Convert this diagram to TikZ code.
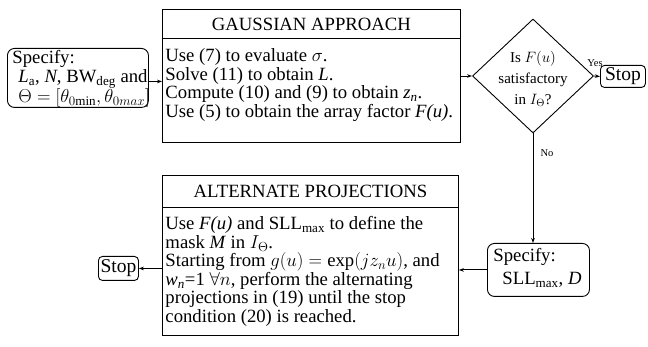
\documentclass[tikz,border=0pt]{standalone}
\usepackage{fix-cm}
\usepackage{fontspec}
\setmainfont{Liberation Serif}
\usetikzlibrary{arrows.meta,shapes.geometric}
\begin{document}
\begin{tikzpicture}[x=1pt,y=-1pt,
  line width=0.9pt,
  every node/.style={font=\fontsize{18.7}{18.5}\selectfont},
  box/.style={draw, rectangle, inner sep=0pt, anchor=north west},
  rbox/.style={box, rounded corners=7pt},
  sbox/.style={box, rounded corners=4pt, font=\fontsize{19.5}{20}\selectfont},
  % multi-line texts are placed by the baseline of their last line
  txt/.style={inner sep=0pt, anchor=base west, align=left},
  dia/.style={draw, diamond, inner sep=0pt, minimum width=121pt, minimum height=114pt},
  small/.style={inner sep=0pt, font=\fontsize{10.5}{12}\selectfont},
  flow/.style={-{Stealth[length=5pt,width=3.6pt]}},
]
\useasboundingbox (0,0) rectangle (648,347);

% input parameters
\node[rbox, minimum width=141pt, minimum height=59pt] (spec) at (7,48) {};
\node[txt] (spectxt) at (12,103) {Specify:\\\hspace*{6pt}\textit{L}\textsubscript{a}, \textit{N}, BW\textsubscript{deg} and\\\hspace*{6pt}$\Theta=[\theta_{0\mathrm{min}},\theta_{0max}]$};

% Gaussian approach block
\node[box, minimum width=298pt, minimum height=133pt] (gauss) at (162,9) {};
\node[box, minimum width=298pt, minimum height=29pt] (ghead) at (162,9) {GAUSSIAN APPROACH};
\node[txt] (gtxt) at (165,117.5) {Use (7) to evaluate $\sigma$.\\Solve (11) to obtain \textit{L}.\\Compute (10) and (9) to obtain \textit{z}\textsubscript{\textit{n}}.\\Use (5) to obtain the array factor \textit{F(u)}.};

% decision
\node[dia] (dec) at (533,76) {};
\node[inner sep=0pt, align=center, font=\fontsize{15}{21}\selectfont] (dectxt) at (533,79) {Is $F(u)$\\satisfactory\\in $I_\Theta$?};

\node[sbox, minimum width=45pt, minimum height=22pt] (stopR) at (600,65) {Stop};

% second parameter set
\node[rbox, minimum width=102pt, minimum height=53pt] (spec2) at (487,243) {};
\node[txt] (spec2txt) at (493,285) {Specify:\\[4.5pt]\hspace*{9pt}SLL\textsubscript{max}, \textit{D}};

% alternate projections block
\node[box, minimum width=296pt, minimum height=160pt] (alt) at (162,175) {};
\node[box, minimum width=296pt, minimum height=32pt] (ahead) at (162,175) {ALTERNATE PROJECTIONS};
\node[txt] (alttxt) at (165,322.5) {Use \textit{F(u)} and SLL\textsubscript{max} to define the\\mask \textit{M} in $I_\Theta$.\\Starting from $g(u)=\exp(jz_nu)$, and\\\textit{w}\textsubscript{\textit{n}}=1 $\forall n$, perform the alternating\\projections in (19) until the stop\\condition (20) is reached.};

\node[sbox, minimum width=40pt, minimum height=24pt] (stopL) at (98,256) {Stop};

% connectors
\draw[flow] ([yshift=-3.5pt]spec.east) -- ([yshift=-3.5pt]spec.east -| gauss.west);
\draw[flow] (dec.west -| gauss.east) -- (dec.west);
\draw[flow] (dec.east) -- (stopR.west);
\node[small] (yes) at (595,63) {Yes};
\draw[flow] (dec.south) -- (spec2.north -| dec.south);
\node[small] (no) at (547,153) {No};
\draw[flow] (spec2.west) -- (spec2.west -| alt.east);
\draw[flow] (stopL.east -| alt.west) -- (stopL.east);
\end{tikzpicture}
\end{document}
